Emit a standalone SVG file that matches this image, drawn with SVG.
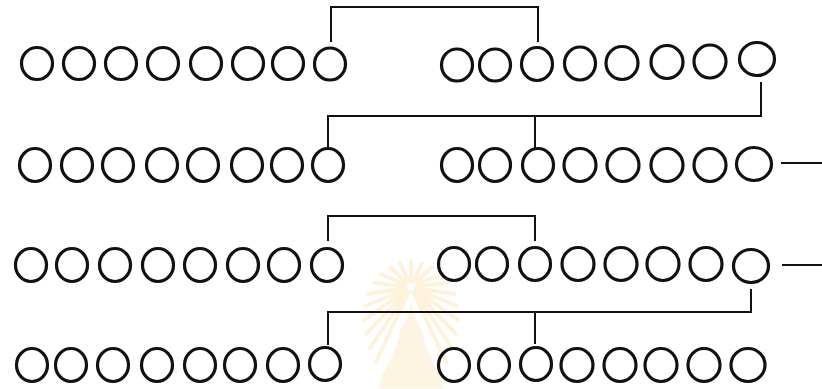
<svg xmlns="http://www.w3.org/2000/svg" width="822" height="389" viewBox="0 0 822 389">
<style>
.c{fill:none;stroke:#111;stroke-width:3.2}
.w{fill:none;stroke:#111;stroke-width:2}
.ray{stroke:#fbe3b0;stroke-width:4;stroke-linecap:round}
</style>
<rect width="822" height="389" fill="#fff"/>
<g id="watermark" opacity="0.45">
<g class="ray">
<line x1="411" y1="287" x2="411" y2="262"/>
<line x1="411" y1="287" x2="400" y2="263"/>
<line x1="411" y1="287" x2="422" y2="263"/>
<line x1="411" y1="287" x2="390" y2="267"/>
<line x1="411" y1="287" x2="432" y2="267"/>
<line x1="411" y1="287" x2="381" y2="274"/>
<line x1="411" y1="287" x2="441" y2="274"/>
<line x1="411" y1="287" x2="374" y2="283"/>
<line x1="411" y1="287" x2="448" y2="283"/>
<line x1="411" y1="287" x2="368" y2="294"/>
<line x1="411" y1="287" x2="454" y2="294"/>
<line x1="411" y1="287" x2="365" y2="306"/>
<line x1="411" y1="287" x2="457" y2="306"/>
<line x1="411" y1="287" x2="364" y2="320"/>
<line x1="411" y1="287" x2="458" y2="320"/>
<line x1="411" y1="287" x2="366" y2="334"/>
<line x1="411" y1="287" x2="456" y2="334"/>
<line x1="411" y1="287" x2="370" y2="348"/>
<line x1="411" y1="287" x2="452" y2="348"/>
<line x1="411" y1="287" x2="376" y2="362"/>
<line x1="411" y1="287" x2="446" y2="362"/>
</g>
<circle cx="411" cy="287" r="5" fill="#fff" stroke="#fbe3b0" stroke-width="2"/>
<path d="M411 300 L416 318 L422 330 L426 345 L432 360 L440 375 L444 389 L378 389 L382 375 L390 360 L396 345 L400 330 L406 318 Z" fill="#fce8c0" stroke="#fff" stroke-width="1"/>
</g>
<g id="connectors">
<path class="w" d="M331 42 V7 H538 V42"/>
<path class="w" d="M761 82 V116 H328 V148"/>
<path class="w" d="M535 116 V148"/>
<path class="w" d="M781 163 H822"/>
<path class="w" d="M328 241 V216 H535 V241"/>
<path class="w" d="M782 265 H822"/>
<path class="w" d="M751 289 V312 H328 V345"/>
<path class="w" d="M535 312 V344"/>
</g>
<g id="row1-left">
<ellipse class="c" cx="37" cy="63.5" rx="15.5" ry="16"/>
<ellipse class="c" cx="79" cy="63.5" rx="15.5" ry="16"/>
<ellipse class="c" cx="121" cy="63.5" rx="15.5" ry="16"/>
<ellipse class="c" cx="163" cy="63.5" rx="15.5" ry="16"/>
<ellipse class="c" cx="206" cy="63.5" rx="15.5" ry="16"/>
<ellipse class="c" cx="248" cy="63.5" rx="15.5" ry="16"/>
<ellipse class="c" cx="288" cy="63.5" rx="15.5" ry="16"/>
<ellipse class="c" cx="330" cy="64" rx="15.5" ry="16"/>
</g>
<g id="row1-right">
<ellipse class="c" cx="457" cy="65" rx="15.5" ry="16"/>
<ellipse class="c" cx="495" cy="65" rx="15.5" ry="16"/>
<ellipse class="c" cx="537" cy="64" rx="15.5" ry="16.5"/>
<ellipse class="c" cx="580" cy="63.5" rx="15.5" ry="16.5"/>
<ellipse class="c" cx="622" cy="63" rx="16" ry="16.5"/>
<ellipse class="c" cx="667" cy="62" rx="16" ry="16.5"/>
<ellipse class="c" cx="710" cy="61.5" rx="16" ry="16.5"/>
<ellipse class="c" cx="757" cy="59" rx="17.5" ry="16.5"/>
</g>
<g id="row2-left">
<ellipse class="c" cx="35" cy="165" rx="15.5" ry="16.5"/>
<ellipse class="c" cx="77" cy="165" rx="15.5" ry="16.5"/>
<ellipse class="c" cx="118" cy="165" rx="15.5" ry="16.5"/>
<ellipse class="c" cx="162" cy="165" rx="15.5" ry="16.5"/>
<ellipse class="c" cx="203" cy="165" rx="15.5" ry="16.5"/>
<ellipse class="c" cx="247" cy="165" rx="15.5" ry="16.5"/>
<ellipse class="c" cx="287" cy="165" rx="15.5" ry="16.5"/>
<ellipse class="c" cx="328" cy="165" rx="15.5" ry="16.5"/>
</g>
<g id="row2-right">
<ellipse class="c" cx="457" cy="165" rx="15.5" ry="16.5"/>
<ellipse class="c" cx="495" cy="165" rx="15.5" ry="16.5"/>
<ellipse class="c" cx="538" cy="165" rx="15.5" ry="16.5"/>
<ellipse class="c" cx="580" cy="165" rx="16" ry="16.5"/>
<ellipse class="c" cx="623" cy="165" rx="16" ry="16.5"/>
<ellipse class="c" cx="667" cy="165" rx="16" ry="16.5"/>
<ellipse class="c" cx="710" cy="165" rx="16" ry="16.5"/>
<ellipse class="c" cx="754" cy="164" rx="17.5" ry="16.5"/>
</g>
<g id="row3-left">
<ellipse class="c" cx="31" cy="265" rx="15.5" ry="16.5"/>
<ellipse class="c" cx="72" cy="265" rx="15.5" ry="16.5"/>
<ellipse class="c" cx="115" cy="265" rx="15.5" ry="16.5"/>
<ellipse class="c" cx="158" cy="265" rx="15.5" ry="16.5"/>
<ellipse class="c" cx="200" cy="265" rx="15.5" ry="16.5"/>
<ellipse class="c" cx="243" cy="265" rx="15.5" ry="16.5"/>
<ellipse class="c" cx="284" cy="265" rx="15.5" ry="16.5"/>
<ellipse class="c" cx="327" cy="265" rx="15.5" ry="16.5"/>
</g>
<g id="row3-right">
<ellipse class="c" cx="454" cy="264" rx="15.5" ry="16.5"/>
<ellipse class="c" cx="492" cy="264" rx="15.5" ry="16.5"/>
<ellipse class="c" cx="535" cy="264" rx="15.5" ry="16.5"/>
<ellipse class="c" cx="578" cy="264" rx="16" ry="16.5"/>
<ellipse class="c" cx="621" cy="264" rx="16" ry="16.5"/>
<ellipse class="c" cx="663" cy="264" rx="16" ry="16.5"/>
<ellipse class="c" cx="706" cy="264" rx="16" ry="16.5"/>
<ellipse class="c" cx="751" cy="266" rx="17.5" ry="16.5"/>
</g>
<g id="row4-left">
<ellipse class="c" cx="32" cy="365" rx="15.5" ry="16.5"/>
<ellipse class="c" cx="71" cy="365" rx="15.5" ry="16.5"/>
<ellipse class="c" cx="113" cy="365" rx="15.5" ry="16.5"/>
<ellipse class="c" cx="157" cy="365" rx="15.5" ry="16.5"/>
<ellipse class="c" cx="200" cy="365" rx="15.5" ry="16.5"/>
<ellipse class="c" cx="240" cy="365" rx="15.5" ry="16.5"/>
<ellipse class="c" cx="283" cy="365" rx="15.5" ry="16.5"/>
<ellipse class="c" cx="325" cy="364" rx="15.5" ry="16.5"/>
</g>
<g id="row4-right">
<ellipse class="c" cx="454" cy="365" rx="15.5" ry="16.5"/>
<ellipse class="c" cx="494" cy="365" rx="15.5" ry="16.5"/>
<ellipse class="c" cx="536" cy="364" rx="15.5" ry="16.5"/>
<ellipse class="c" cx="577" cy="365" rx="16" ry="16.5"/>
<ellipse class="c" cx="620" cy="365" rx="16" ry="16.5"/>
<ellipse class="c" cx="661" cy="365" rx="16" ry="16.5"/>
<ellipse class="c" cx="704" cy="365" rx="16" ry="16.5"/>
<ellipse class="c" cx="748" cy="365" rx="17" ry="16.5"/>
</g>
</svg>
